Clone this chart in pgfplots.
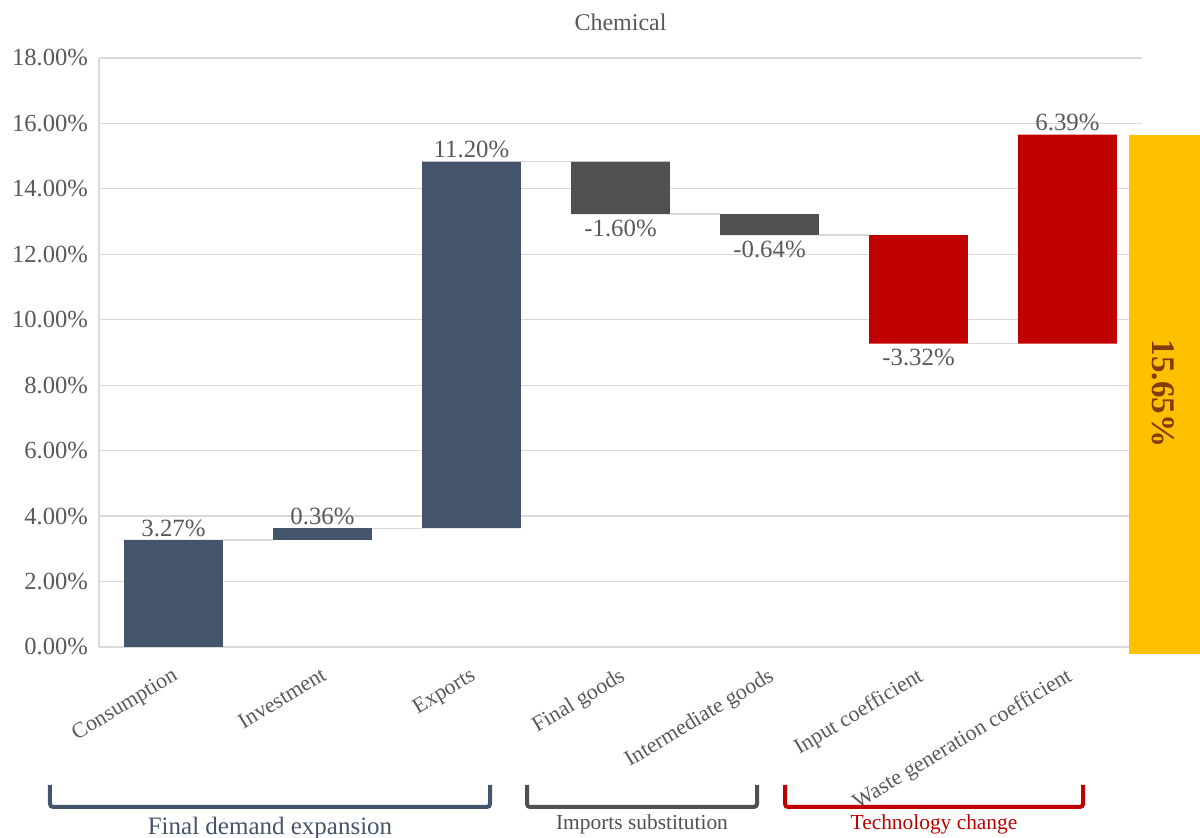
\documentclass[border=0pt]{standalone}
\usepackage{pgfplots}
\pgfplotsset{compat=1.18}
\usepackage{pgfplotstable}
\usepackage{fontspec}
\setmainfont{Liberation Serif}
\definecolor{navy}{HTML}{44546A}
\definecolor{dgray}{HTML}{505050}
\definecolor{cred}{HTML}{C00000}
\definecolor{cyellow}{HTML}{FFC000}
\definecolor{cbrown}{HTML}{843C0C}
\definecolor{txt}{HTML}{595959}
\definecolor{gridc}{HTML}{D9D9D9}

\pgfplotstableread{
x base nv gy rd
0 0     3.27  0    0
1 3.27  0.36  0    0
2 3.63  11.20 0    0
3 13.23 0     1.60 0
4 12.59 0     0.64 0
5 9.27  0     0    3.32
6 9.27  0     0    6.39
}\wf

\begin{document}
\begin{tikzpicture}
\useasboundingbox (-49.5pt,-95.5pt) rectangle (550.5pt,323.5pt);
\begin{axis}[
  at={(0,0)}, anchor=south west,
  scale only axis, width=521.5pt, height=294.5pt,
  xmin=-0.5, xmax=6.5, ymin=0, ymax=18,
  ybar stacked, bar width=0.664,
  axis x line*=bottom, axis y line*=left,
  axis line style={draw=gridc, line width=0.6pt},
  ymajorgrids, grid style={draw=gridc, line width=0.6pt},
  major tick length=0pt,
  ytick={0,2,...,18},
  /pgf/number format/assume math mode=true,
  yticklabel={\pgfmathprintnumber[fixed,fixed zerofill,precision=2]{\tick}\%},
  yticklabel style={font=\fontsize{12.3}{14}\selectfont, text=txt},
  yticklabel shift=2pt,
  xtick={0,...,6},
  xticklabels={Consumption,Investment,Exports,Final goods,Intermediate goods,Input coefficient,Waste generation coefficient},
  xticklabel style={rotate=31, anchor=north east, font=\fontsize{11}{13}\selectfont, text=txt},
  xticklabel shift=5pt,
]
\addplot[draw=none, fill=none] table[x=x, y=base] {\wf};
\addplot[draw=none, fill=navy] table[x=x, y=nv] {\wf};
\addplot[draw=none, fill=dgray] table[x=x, y=gy] {\wf};
\addplot[draw=none, fill=cred] table[x=x, y=rd] {\wf};
\end{axis}
\begin{axis}[
  at={(0,0)}, anchor=south west,
  scale only axis, width=521.5pt, height=294.5pt,
  xmin=-0.5, xmax=6.5, ymin=0, ymax=18,
  hide axis, clip=false,
]
\addplot[gridc, line width=0.6pt] coordinates {(0.332,3.27) (0.668,3.27)};
\addplot[gridc, line width=0.6pt] coordinates {(1.332,3.63) (1.668,3.63)};
\addplot[gridc, line width=0.6pt] coordinates {(2.332,14.83) (2.668,14.83)};
\addplot[gridc, line width=0.6pt] coordinates {(3.332,13.23) (3.668,13.23)};
\addplot[gridc, line width=0.6pt] coordinates {(4.332,12.59) (4.668,12.59)};
\addplot[gridc, line width=0.6pt] coordinates {(5.332,9.27) (5.668,9.27)};
\addplot[draw=none, fill=cyellow] coordinates {(6.41,-0.21) (6.95,-0.21) (6.95,15.65) (6.41,15.65)} --cycle;
\begin{scope}[every node/.style={font=\fontsize{12.4}{14}\selectfont, text=txt, inner sep=1.5pt}]
\node[anchor=south] at (axis cs:0,3.27) {3.27\%};
\node[anchor=south] at (axis cs:1,3.63) {0.36\%};
\node[anchor=south] at (axis cs:2,14.83) {11.20\%};
\node[anchor=north, yshift=-1.5pt] at (axis cs:3,13.23) {-1.60\%};
\node[anchor=north, yshift=-1.5pt] at (axis cs:4,12.59) {-0.64\%};
\node[anchor=north, yshift=-1pt] at (axis cs:5,9.27) {-3.32\%};
\node[anchor=south] at (axis cs:6,15.66) {6.39\%};
\end{scope}
\node[rotate=-90, font=\fontsize{16.5}{18}\selectfont\bfseries, text=cbrown] at (axis cs:6.64,7.75) {15.65\%};
\end{axis}
\node[font=\fontsize{12}{14}\selectfont, text=txt] at (260.75pt,312.5pt) {Chemical};
\draw[navy, line width=2pt, rounded corners=1.5pt] (-24.5pt,-69pt) -- (-24.5pt,-80pt) -- (195.5pt,-80pt) -- (195.5pt,-69pt);
\draw[dgray, line width=2pt, rounded corners=1.5pt] (214pt,-69pt) -- (214pt,-80pt) -- (329pt,-80pt) -- (329pt,-69pt);
\draw[cred, line width=2pt, rounded corners=1.5pt] (343pt,-69pt) -- (343pt,-80pt) -- (492pt,-80pt) -- (492pt,-69pt);
\node[font=\fontsize{12.5}{14}\selectfont, text=navy] at (85.5pt,-90.5pt) {Final demand expansion};
\node[font=\fontsize{10.7}{12}\selectfont, text=dgray] at (271.5pt,-88.5pt) {Imports substitution};
\node[font=\fontsize{10.7}{12}\selectfont, text=cred] at (417.5pt,-88.5pt) {Technology change};
\end{tikzpicture}
\end{document}
